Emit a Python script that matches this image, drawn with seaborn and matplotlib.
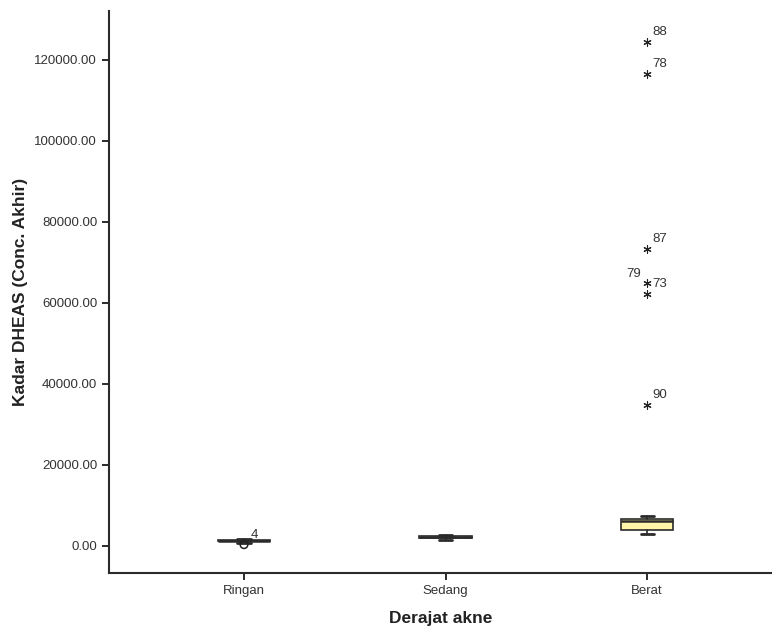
import numpy as np
import pandas as pd
from matplotlib import pyplot as plt
import seaborn as sns

# box summary per group
groups = ["Ringan", "Sedang", "Berat"]
whislo = [700, 1400, 2970]
q1 = [1100, 2000, 3960]
med = [1200, 2200, 6000]
q3 = [1300, 2400, 6680]
whishi = [1750, 2700, 7250]

# outliers: circle = mild, asterisk = extreme
mild_group = ["Ringan"]
mild_value = [250]
mild_case = ["4"]

extreme_group = ["Berat", "Berat", "Berat", "Berat", "Berat", "Berat"]
extreme_value = [124400, 116500, 73300, 65000, 62200, 34800]
extreme_case = ["88", "78", "87", "79", "73", "90"]

y_ticks = [0, 20000, 40000, 60000, 80000, 100000, 120000]

sns.set_style("ticks")
plt.rcParams['font.family'] = ['Liberation Sans', 'DejaVu Sans']

fig = plt.figure(figsize=(7.72, 6.30), dpi=100)
ax = fig.add_axes([0.1412, 0.0905, 0.8588, 0.892])

stats = []
for i, g in enumerate(groups):
    stats.append(dict(label=g, whislo=whislo[i], q1=q1[i], med=med[i],
                      q3=q3[i], whishi=whishi[i], fliers=[]))

edge = "#2b2b2b"
bp = ax.bxp(stats, positions=range(len(groups)), widths=0.26, capwidths=0.065,
            patch_artist=True, showfliers=False,
            boxprops=dict(facecolor="#fff4a8", edgecolor=edge, linewidth=1.2),
            medianprops=dict(color=edge, linewidth=1.8),
            whiskerprops=dict(color=edge, linewidth=1.2),
            capprops=dict(color=edge, linewidth=2.0))

mild = pd.DataFrame({"pos": [groups.index(g) for g in mild_group],
                     "value": mild_value, "case": mild_case})
extreme = pd.DataFrame({"pos": [groups.index(g) for g in extreme_group],
                        "value": extreme_value, "case": extreme_case})

sns.scatterplot(data=mild, x="pos", y="value", ax=ax, marker="o", s=30,
                facecolor="none", edgecolor="#222222", linewidth=1.1, zorder=3)
sns.scatterplot(data=extreme, x="pos", y="value", ax=ax, marker=(6, 2, 0), s=28,
                color="#222222", linewidth=0.8, zorder=3)

# case number labels, SPSS puts them up-right unless crowded
for _, r in mild.iterrows():
    ax.annotate(r["case"], (r["pos"], r["value"]), xytext=(5, 5),
                textcoords="offset points", fontsize=9.5, color="#333333")
for _, r in extreme.iterrows():
    if r["case"] == "79":
        ax.annotate(r["case"], (r["pos"], r["value"]), xytext=(-4, 4),
                    textcoords="offset points", ha="right", fontsize=9.5,
                    color="#333333")
    else:
        ax.annotate(r["case"], (r["pos"], r["value"]), xytext=(4, 5),
                    textcoords="offset points", ha="left", fontsize=9.5,
                    color="#333333")

ax.set_xlim(-0.67, 2.62)
ax.set_ylim(-6750, 132100)
ax.set_yticks(y_ticks)
ax.set_yticklabels(["%.2f" % v for v in y_ticks])
ax.set_xticks(range(len(groups)))
ax.set_xticklabels(groups)

ax.tick_params(axis="both", labelsize=9.5, length=5, width=1.4, color=edge,
               labelcolor="#333333", direction="out")
for side in ["left", "bottom"]:
    ax.spines[side].set_linewidth(1.5)
    ax.spines[side].set_color(edge)
sns.despine(ax=ax)

ax.set_xlabel("Derajat akne", fontsize=12.5, fontweight="bold", color="#222222",
              labelpad=10)
ax.set_ylabel("Kadar DHEAS (Conc. Akhir)", fontsize=12.5, fontweight="bold",
              color="#222222", labelpad=5)

fig.savefig("out.png", dpi=100)
